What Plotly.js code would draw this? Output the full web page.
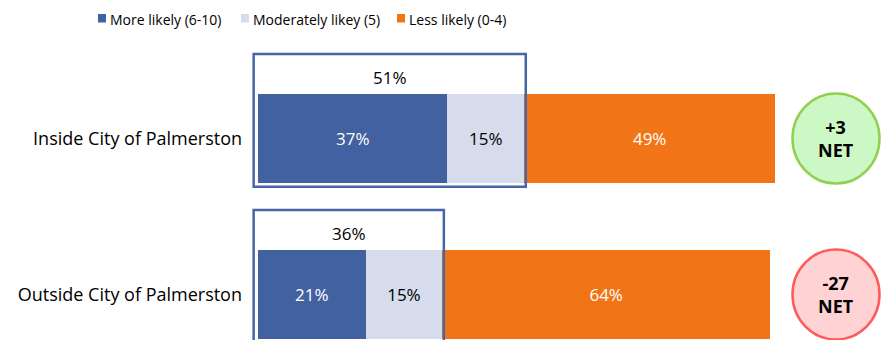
<!DOCTYPE html>
<html>
<head>
<meta charset="utf-8">
<script src="https://cdn.plot.ly/plotly-3.0.1.min.js"></script>
<style>
  html, body { margin: 0; padding: 0; background: #ffffff; }
  #chart { width: 881px; height: 340px; }
</style>
</head>
<body>
<div id="chart"></div>
<script>
// Likelihood ratings by location
const regions = ['Inside City of Palmerston', 'Outside City of Palmerston'];
const seriesNames = ['More likely (6-10)', 'Moderately likey (5)', 'Less likely (0-4)'];
const moreLikely = [37, 21];
const moderatelyLikely = [15, 15];
const lessLikely = [49, 64];
const likelyCombined = [51, 36];   // more + moderately likely, as reported
const netScores = ['+3', '-27'];

const seriesColors = ['#4261A1', '#D6DCEB', '#F17517'];
const textColors = ['#ffffff', '#000000', '#ffffff'];
const BOX_COLOR = '#4666A8';
const FONT = 'Open Sans, sans-serif';

// frame geometry (px)
const W = 881, H = 340;
const M = { l: 243, r: 100, t: 45, b: 0 };
const plotW = W - M.l - M.r, plotH = H - M.t - M.b;
const px2paperX = px => (px - M.l) / plotW;
const px2paperY = py => (H - M.b - py) / plotH;

const pct = arr => arr.map(v => v + '%');

const seriesValues = [moreLikely, moderatelyLikely, lessLikely];
const traces = seriesValues.map((vals, k) => ({
  type: 'bar',
  orientation: 'h',
  name: seriesNames[k],
  y: regions,
  x: vals,
  text: pct(vals),
  textposition: 'inside',
  insidetextanchor: 'middle',
  textangle: 0,
  constraintext: 'none',
  textfont: { family: FONT, size: 17, color: textColors[k] },
  marker: { color: seriesColors[k], line: { width: 0 } },
  hoverinfo: 'skip',
  showlegend: false
}));

// y axis: category index runs downward, Inside at top
const yRange = [1.292, -0.599];
const xRange = [-2.93, 102.148];
const paperYOfCategory = i => (yRange[0] - i) / (yRange[0] - yRange[1]);

const shapes = [];
const annotations = [];

regions.forEach((r, i) => {
  const top2 = moreLikely[i] + moderatelyLikely[i];
  // outline around the "likely" segments, tall enough to hold the combined label
  shapes.push({
    type: 'rect', xref: 'x', yref: 'y', layer: 'above',
    x0: -0.85, x1: top2 + 0.3,
    y0: i - 0.542, y1: i + 0.31,
    line: { color: BOX_COLOR, width: 2.5 },
    fillcolor: 'rgba(0,0,0,0)'
  });
  annotations.push({
    xref: 'x', yref: 'y', x: (top2 - 0.55) / 2, y: i - 0.39,
    xanchor: 'center', yanchor: 'middle',
    text: likelyCombined[i] + '%', showarrow: false,
    font: { family: FONT, size: 17, color: '#000000' }
  });

  // NET badge
  const positive = netScores[i].charAt(0) === '+';
  const cx = px2paperX(836), cy = paperYOfCategory(i);
  shapes.push({
    type: 'circle', xref: 'paper', yref: 'paper',
    xsizemode: 'pixel', ysizemode: 'pixel',
    xanchor: cx, yanchor: cy,
    x0: -43.5, x1: 43.5, y0: -45, y1: 45,
    line: { color: positive ? '#92D050' : '#FF5B5B', width: 2.5 },
    fillcolor: positive ? '#CCF8C6' : '#FFD3D3',
    layer: 'above'
  });
  annotations.push({
    xref: 'paper', yref: 'paper', x: cx, y: cy,
    xanchor: 'center', yanchor: 'middle', align: 'center',
    text: '<b>' + netScores[i] + '<br>NET</b>', showarrow: false,
    font: { family: FONT, size: 18, color: '#000000' }
  });
});

// legend row across the top
const legendLeft = [98, 241, 397];
seriesNames.forEach((name, k) => {
  shapes.push({
    type: 'rect', xref: 'paper', yref: 'paper',
    x0: px2paperX(legendLeft[k]), x1: px2paperX(legendLeft[k] + 8),
    y0: px2paperY(22.5), y1: px2paperY(14),
    line: { width: 0 }, fillcolor: seriesColors[k]
  });
  annotations.push({
    xref: 'paper', yref: 'paper',
    x: px2paperX(legendLeft[k] + 10), y: px2paperY(19),
    xanchor: 'left', yanchor: 'middle',
    text: name, showarrow: false,
    font: { family: FONT, size: 14, color: '#000000' }
  });
});

const layout = {
  width: W, height: H,
  margin: { l: M.l, r: M.r, t: M.t, b: M.b, pad: 0 },
  paper_bgcolor: '#ffffff', plot_bgcolor: '#ffffff',
  barmode: 'stack',
  bargap: 0.43,
  showlegend: false,
  xaxis: { range: xRange, visible: false, fixedrange: true },
  yaxis: {
    type: 'category', categoryarray: regions, range: yRange,
    showgrid: false, zeroline: false, showline: false, ticks: '',
    tickfont: { family: FONT, size: 18, color: '#000000' },
    fixedrange: true
  },
  shapes: shapes,
  annotations: annotations,
  font: { family: FONT }
};

Plotly.newPlot('chart', traces, layout, { displayModeBar: false, staticPlot: true });
</script>
</body>
</html>
